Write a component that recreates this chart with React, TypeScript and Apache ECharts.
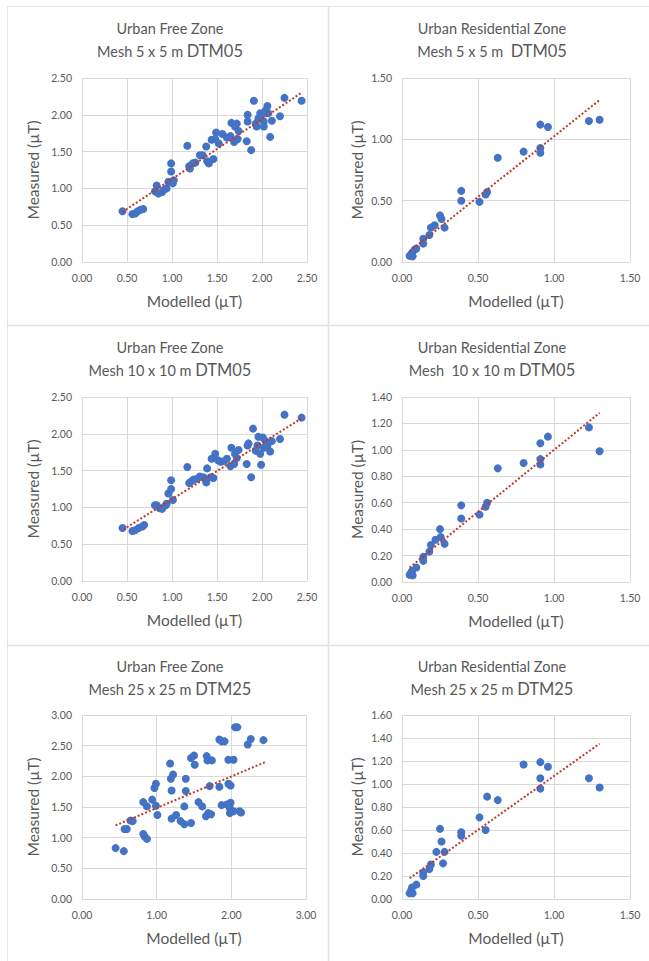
import React, { useEffect, useRef } from "react";
import * as echarts from "echarts";

// Urban Free Zone – Mesh 5 x 5 m DTM05  [modelled, measured]
const free5: [number, number][] = [
  [0.45, 0.69], [0.56, 0.65], [0.59, 0.66], [0.62, 0.69], [0.65, 0.71], [0.68, 0.72],
  [0.83, 1.04], [0.81, 0.96], [0.85, 0.93], [0.89, 0.95], [0.91, 0.98], [0.94, 1.0],
  [0.96, 1.09], [0.99, 1.34], [0.99, 1.23], [0.99, 1.09], [1.01, 1.07], [1.02, 1.11],
  [1.17, 1.58], [1.19, 1.3], [1.2, 1.27], [1.23, 1.34], [1.26, 1.35], [1.31, 1.45],
  [1.34, 1.45], [1.38, 1.57], [1.39, 1.37], [1.41, 1.34], [1.46, 1.4], [1.44, 1.66],
  [1.48, 1.67], [1.49, 1.76], [1.52, 1.61], [1.56, 1.74], [1.61, 1.69], [1.65, 1.71],
  [1.66, 1.89], [1.69, 1.63], [1.7, 1.84], [1.72, 1.88], [1.73, 1.67], [1.74, 1.78],
  [1.83, 1.64], [1.84, 1.91], [1.84, 2.0], [1.88, 1.52], [1.91, 2.19], [1.93, 1.88],
  [1.94, 1.84], [1.96, 1.95], [1.98, 2.02], [2.0, 2.0], [2.02, 1.91], [2.02, 1.84],
  [2.04, 2.06], [2.06, 2.12], [2.07, 2.02], [2.09, 1.7], [2.11, 1.92], [2.2, 1.98],
  [2.25, 2.23], [2.44, 2.19],
];
const trendFree5: [number, number][] = [[0.45, 0.68], [2.44, 2.3]];

// Urban Residential Zone – Mesh 5 x 5 m DTM05
const res5: [number, number][] = [
  [0.05, 0.05], [0.066, 0.073], [0.07, 0.046], [0.057, 0.06], [0.083, 0.1], [0.094, 0.11],
  [0.14, 0.19], [0.14, 0.15], [0.18, 0.22], [0.19, 0.28], [0.215, 0.3], [0.25, 0.38],
  [0.26, 0.35], [0.28, 0.28], [0.39, 0.58], [0.39, 0.5], [0.51, 0.49], [0.55, 0.55],
  [0.56, 0.57], [0.63, 0.85], [0.8, 0.9], [0.91, 1.12], [0.91, 0.93], [0.91, 0.89],
  [0.96, 1.1], [1.23, 1.15], [1.3, 1.16],
];
const trendRes5: [number, number][] = [[0.05, 0.087], [1.3, 1.32]];

// Urban Free Zone – Mesh 10 x 10 m DTM05
const free10: [number, number][] = [
  [0.45, 0.72], [0.56, 0.68], [0.59, 0.69], [0.63, 0.72], [0.67, 0.74], [0.69, 0.76],
  [0.81, 1.03], [0.83, 1.03], [0.86, 0.99], [0.89, 0.98], [0.93, 1.03], [0.94, 1.05],
  [0.96, 1.19], [0.99, 1.25], [0.99, 1.37], [1.01, 1.1], [1.17, 1.55], [1.19, 1.33],
  [1.21, 1.35], [1.24, 1.38], [1.28, 1.39], [1.31, 1.42], [1.35, 1.41], [1.38, 1.34],
  [1.39, 1.53], [1.43, 1.41], [1.46, 1.4], [1.44, 1.66], [1.48, 1.73], [1.51, 1.64],
  [1.54, 1.62], [1.58, 1.63], [1.61, 1.66], [1.65, 1.56], [1.66, 1.81], [1.69, 1.59],
  [1.7, 1.73], [1.72, 1.67], [1.74, 1.78], [1.83, 1.59], [1.84, 1.84], [1.85, 1.87],
  [1.88, 1.41], [1.9, 2.07], [1.93, 1.77], [1.95, 1.84], [1.96, 1.96], [1.98, 1.73],
  [1.99, 1.58], [2.01, 1.95], [2.02, 1.81], [2.04, 1.9], [2.06, 1.83], [2.09, 1.76],
  [2.11, 1.9], [2.2, 1.93], [2.25, 2.26], [2.44, 2.22],
];
const trendFree10: [number, number][] = [[0.46, 0.7], [2.44, 2.21]];

// Urban Residential Zone – Mesh 10 x 10 m DTM05
const res10: [number, number][] = [
  [0.05, 0.055], [0.066, 0.083], [0.07, 0.05], [0.06, 0.07], [0.094, 0.11], [0.14, 0.19],
  [0.14, 0.16], [0.18, 0.23], [0.19, 0.28], [0.22, 0.32], [0.25, 0.4], [0.255, 0.34],
  [0.28, 0.29], [0.39, 0.58], [0.39, 0.48], [0.51, 0.51], [0.55, 0.57], [0.56, 0.6],
  [0.63, 0.86], [0.8, 0.9], [0.91, 1.05], [0.91, 0.93], [0.91, 0.89], [0.96, 1.1],
  [1.23, 1.17], [1.3, 0.99],
];
const trendRes10: [number, number][] = [[0.05, 0.11], [1.3, 1.28]];

// Urban Free Zone – Mesh 25 x 25 m DTM25
const free25: [number, number][] = [
  [0.45, 0.83], [0.56, 0.78], [0.57, 1.14], [0.6, 1.14], [0.65, 1.28], [0.68, 1.27],
  [0.82, 1.06], [0.84, 1.02], [0.87, 0.98], [0.82, 1.58], [0.87, 1.51], [0.94, 1.62],
  [0.97, 1.81], [0.99, 1.88], [0.99, 1.52], [1.01, 1.37], [1.18, 2.21], [1.19, 1.96],
  [1.22, 2.03], [1.2, 1.77], [1.2, 1.31], [1.26, 1.37], [1.32, 1.27], [1.37, 1.22],
  [1.39, 1.96], [1.39, 1.76], [1.37, 1.51], [1.46, 1.24], [1.46, 2.3], [1.5, 2.34],
  [1.51, 2.19], [1.56, 1.58], [1.61, 1.51], [1.66, 1.35], [1.67, 2.33], [1.68, 2.26],
  [1.69, 1.4], [1.74, 2.26], [1.73, 1.38], [1.71, 1.84], [1.84, 1.83], [1.84, 2.6],
  [1.87, 2.57], [1.91, 2.57], [1.87, 1.53], [1.94, 1.54], [1.96, 2.27], [2.03, 2.27],
  [1.96, 1.88], [1.99, 1.85], [1.98, 1.48], [1.99, 1.57], [1.98, 1.4], [2.03, 1.43],
  [2.05, 2.8], [2.08, 2.8], [2.11, 1.43], [2.13, 1.41], [2.22, 2.52], [2.26, 2.61],
  [2.43, 2.59],
];
const trendFree25: [number, number][] = [[0.45, 1.2], [2.45, 2.23]];

// Urban Residential Zone – Mesh 25 x 25 m DTM25
const res25: [number, number][] = [
  [0.05, 0.05], [0.066, 0.1], [0.07, 0.05], [0.06, 0.075], [0.094, 0.125], [0.14, 0.2],
  [0.14, 0.23], [0.18, 0.26], [0.19, 0.3], [0.226, 0.41], [0.25, 0.61], [0.26, 0.5],
  [0.27, 0.31], [0.28, 0.41], [0.39, 0.58], [0.39, 0.55], [0.51, 0.71], [0.55, 0.6],
  [0.56, 0.89], [0.63, 0.86], [0.8, 1.17], [0.91, 1.19], [0.91, 1.05], [0.91, 0.96],
  [0.96, 1.15], [1.23, 1.05], [1.3, 0.97],
];
const trendRes25: [number, number][] = [[0.05, 0.18], [1.3, 1.35]];

const zoneTitles = ["Urban Free Zone", "Urban Residential Zone"];
const meshTitles = ["Mesh 5 x 5 m ", "Mesh 5 x 5 m  ", "Mesh 10 x 10 m ", "Mesh  10 x 10 m ", "Mesh 25 x 25 m ", "Mesh 25 x 25 m "];
const dtmTitles = ["DTM05", "DTM05", "DTM05", "DTM05", "DTM25", "DTM25"];
const xAxisMax = [2.5, 1.5, 2.5, 1.5, 3, 1.5];
const xAxisStep = [0.5, 0.5, 0.5, 0.5, 1, 0.5];
const yAxisMax = [2.5, 1.5, 2.5, 1.4, 3, 1.6];
const yAxisStep = [0.5, 0.5, 0.5, 0.2, 0.5, 0.2];
const xAxisTitle = "Modelled (µT)";
const yAxisTitle = "Measured (µT)";

const pointSets = [free5, res5, free10, res10, free25, res25];
const trendSets = [trendFree5, trendRes5, trendFree10, trendRes10, trendFree25, trendRes25];

const FONT = "Lato, 'Noto Sans', sans-serif";
const TEXT = "#595959";
const GRID = "#d9d9d9";

const gridBoxes = [
  { left: 82, top: 78, width: 225, height: 184 },
  { left: 402, top: 78, width: 228, height: 184 },
  { left: 82, top: 397, width: 225, height: 184 },
  { left: 402, top: 397, width: 228, height: 185 },
  { left: 82, top: 715, width: 224, height: 184 },
  { left: 402, top: 715, width: 228, height: 184 },
];
const titleCenters = [
  { x: 170, y: 16.5 },
  { x: 492, y: 16.5 },
  { x: 170, y: 335.5 },
  { x: 492, y: 335.5 },
  { x: 170, y: 654.5 },
  { x: 492, y: 654.5 },
];
const yNameGaps = [41, 37, 41, 37, 41, 37];

export default function App() {
  const ref = useRef<HTMLDivElement>(null);
  useEffect(() => {
    if (!ref.current) return;
    const chart = echarts.init(ref.current, undefined, { renderer: "svg" });
    const fmt = (v: number) => v.toFixed(2);
    const option: any = {
      animation: false,
      backgroundColor: "#ffffff",
      title: titleCenters.map((c, i) => ({
        text: `{z|${zoneTitles[i % 2]}}\n{m|${meshTitles[i]}}{d|${dtmTitles[i]}}`,
        left: c.x,
        top: c.y,
        padding: 0,
        textAlign: "center",
        textStyle: {
          fontWeight: "normal",
          rich: {
            z: { fontFamily: FONT, fontSize: 14.5, fontWeight: "normal", color: TEXT, lineHeight: 23 },
            m: { fontFamily: FONT, fontSize: 14.5, fontWeight: "normal", color: TEXT, lineHeight: 23 },
            d: { fontFamily: FONT, fontSize: 16.5, fontWeight: "normal", color: TEXT, lineHeight: 23 },
          },
        },
      })),
      grid: gridBoxes.map((g) => ({ ...g, containLabel: false })),
      xAxis: gridBoxes.map((_, i) => ({
        type: "value",
        gridIndex: i,
        min: 0,
        max: xAxisMax[i],
        interval: xAxisStep[i],
        name: xAxisTitle,
        nameLocation: "middle",
        nameGap: 31,
        nameTextStyle: { fontFamily: FONT, fontSize: 15.5, color: TEXT },
        axisLine: { show: true, lineStyle: { color: GRID, width: 1 } },
        axisTick: { show: false },
        axisLabel: { fontFamily: FONT, fontSize: 10.5, color: TEXT, margin: 10, formatter: fmt },
        splitLine: { show: true, lineStyle: { color: GRID, width: 1 } },
      })),
      yAxis: gridBoxes.map((_, i) => ({
        type: "value",
        gridIndex: i,
        min: 0,
        max: yAxisMax[i],
        interval: yAxisStep[i],
        name: yAxisTitle,
        nameLocation: "middle",
        nameGap: yNameGaps[i],
        nameTextStyle: { fontFamily: FONT, fontSize: 15.5, color: TEXT },
        axisLine: { show: false },
        axisTick: { show: false },
        axisLabel: { fontFamily: FONT, fontSize: 10.5, color: TEXT, margin: 10, formatter: fmt },
        splitLine: { show: true, lineStyle: { color: GRID, width: 1 } },
      })),
      series: [
        ...pointSets.map((pts, i) => ({
          type: "scatter",
          xAxisIndex: i,
          yAxisIndex: i,
          data: pts,
          symbol: "circle",
          symbolSize: 8,
          itemStyle: { color: "#4472C4", opacity: 1 },
          z: 3,
        })),
        ...trendSets.map((tr, i) => ({
          type: "line",
          xAxisIndex: i,
          yAxisIndex: i,
          data: tr,
          showSymbol: false,
          symbol: "none",
          lineStyle: { color: "#C0392B", width: 2, type: [2, 2] },
          z: 4,
        })),
      ],
      graphic: [
        { type: "line", shape: { x1: 7, y1: 6.5, x2: 649, y2: 6.5 }, style: { stroke: "#e6e6e6", lineWidth: 1 } },
        { type: "line", shape: { x1: 7.5, y1: 6, x2: 7.5, y2: 961 }, style: { stroke: "#e6e6e6", lineWidth: 1 } },
        { type: "line", shape: { x1: 328.5, y1: 6, x2: 328.5, y2: 961 }, style: { stroke: "#e0e0e0", lineWidth: 1.5 } },
        { type: "line", shape: { x1: 7, y1: 325.5, x2: 649, y2: 325.5 }, style: { stroke: "#e0e0e0", lineWidth: 1.5 } },
        { type: "line", shape: { x1: 7, y1: 645.5, x2: 649, y2: 645.5 }, style: { stroke: "#e0e0e0", lineWidth: 1.5 } },
      ],
    };
    chart.setOption(option);
    return () => chart.dispose();
  }, []);
  return (
    <div
      ref={ref}
      style={{ position: "fixed", left: 0, top: 0, width: 649, height: 961, background: "#fff" }}
    />
  );
}
